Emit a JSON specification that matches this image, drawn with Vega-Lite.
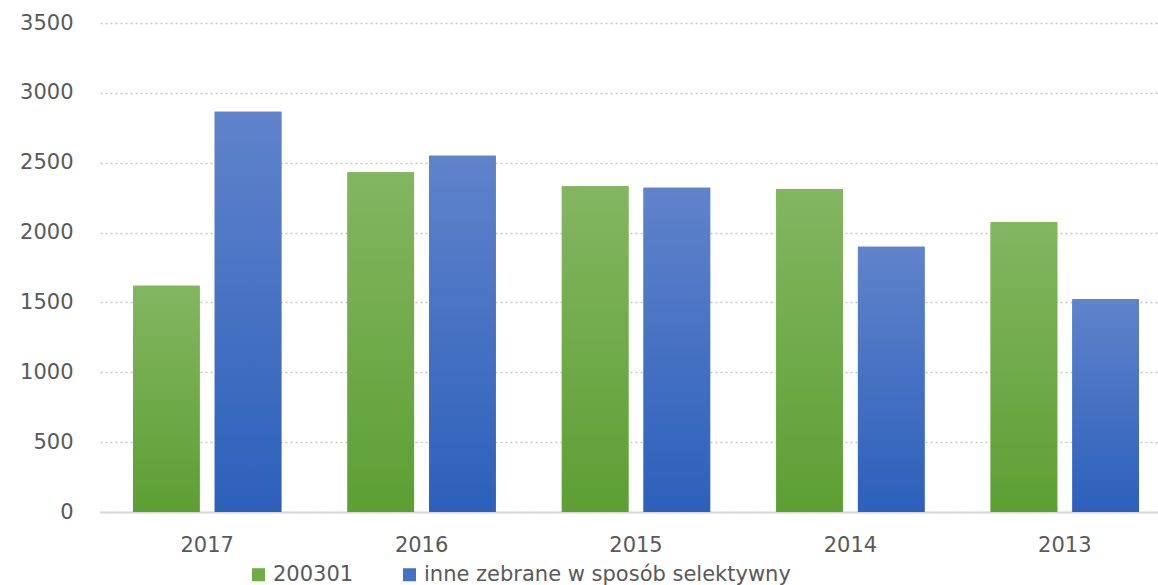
{
  "$schema": "https://vega.github.io/schema/vega-lite/v6.json",
  "width": 1058,
  "height": 489,
  "autosize": {"type": "none"},
  "padding": {"left": 100, "top": 23, "right": 0, "bottom": 73},
  "background": "white",
  "config": {
    "view": {"stroke": null},
    "font": "DejaVu Sans"
  },
  "data": {
    "values": [
      {"year": "2017", "series": "200301", "value": 1620},
      {"year": "2017", "series": "inne zebrane w sposób selektywny", "value": 2865},
      {"year": "2016", "series": "200301", "value": 2431},
      {"year": "2016", "series": "inne zebrane w sposób selektywny", "value": 2550},
      {"year": "2015", "series": "200301", "value": 2331},
      {"year": "2015", "series": "inne zebrane w sposób selektywny", "value": 2321},
      {"year": "2014", "series": "200301", "value": 2312},
      {"year": "2014", "series": "inne zebrane w sposób selektywny", "value": 1899},
      {"year": "2013", "series": "200301", "value": 2074},
      {"year": "2013", "series": "inne zebrane w sposób selektywny", "value": 1522}
    ]
  },
  "encoding": {
    "x": {
      "field": "year", "type": "nominal",
      "sort": ["2017", "2016", "2015", "2014", "2013"],
      "scale": {"range": [0, 1072], "paddingInner": 0.308, "paddingOuter": 0.154},
      "axis": {
        "title": null, "labelAngle": 0, "ticks": false,
        "domainColor": "#d9d9d9", "domainWidth": 2,
        "labelFontSize": 21, "labelColor": "#595959", "labelPadding": 22,
        "labelFont": "DejaVu Sans"
      }
    },
    "xOffset": {
      "field": "series", "type": "nominal",
      "sort": ["200301", "inne zebrane w sposób selektywny"],
      "scale": {"paddingInner": 0.184, "paddingOuter": 0}
    },
    "y": {
      "field": "value", "type": "quantitative",
      "scale": {"domain": [0, 3500], "nice": false},
      "axis": {
        "title": null, "values": [0, 500, 1000, 1500, 2000, 2500, 3000, 3500],
        "format": "d",
        "ticks": false, "domain": false,
        "gridColor": "#c6c6c6", "gridDash": [2, 3], "gridWidth": 1.5,
        "labelFontSize": 21, "labelColor": "#595959", "labelPadding": 27,
        "labelFont": "DejaVu Sans"
      }
    }
  },
  "layer": [
    {
      "mark": {"type": "bar"},
      "encoding": {
        "color": {
          "field": "series", "type": "nominal",
          "sort": ["200301", "inne zebrane w sposób selektywny"],
          "scale": {"range": ["#70ad47", "#4472c4"]},
          "legend": {
            "title": null, "orient": "none", "direction": "horizontal",
            "legendX": 148, "legendY": 541,
            "symbolType": "square", "symbolSize": 170, "symbolStrokeWidth": 0,
            "labelFontSize": 21, "labelColor": "#595959", "labelFont": "DejaVu Sans",
            "columnPadding": 45, "labelLimit": 800
          }
        }
      }
    },
    {
      "transform": [{"filter": "datum.series == '200301'"}],
      "mark": {
        "type": "bar",
        "color": {
          "gradient": "linear", "x1": 0, "y1": 0, "x2": 0, "y2": 1,
          "stops": [{"offset": 0, "color": "#83b661"}, {"offset": 1, "color": "#5d9f33"}]
        }
      }
    },
    {
      "transform": [{"filter": "datum.series != '200301'"}],
      "mark": {
        "type": "bar",
        "color": {
          "gradient": "linear", "x1": 0, "y1": 0, "x2": 0, "y2": 1,
          "stops": [{"offset": 0, "color": "#6083cb"}, {"offset": 1, "color": "#2c60bb"}]
        }
      }
    }
  ]
}
